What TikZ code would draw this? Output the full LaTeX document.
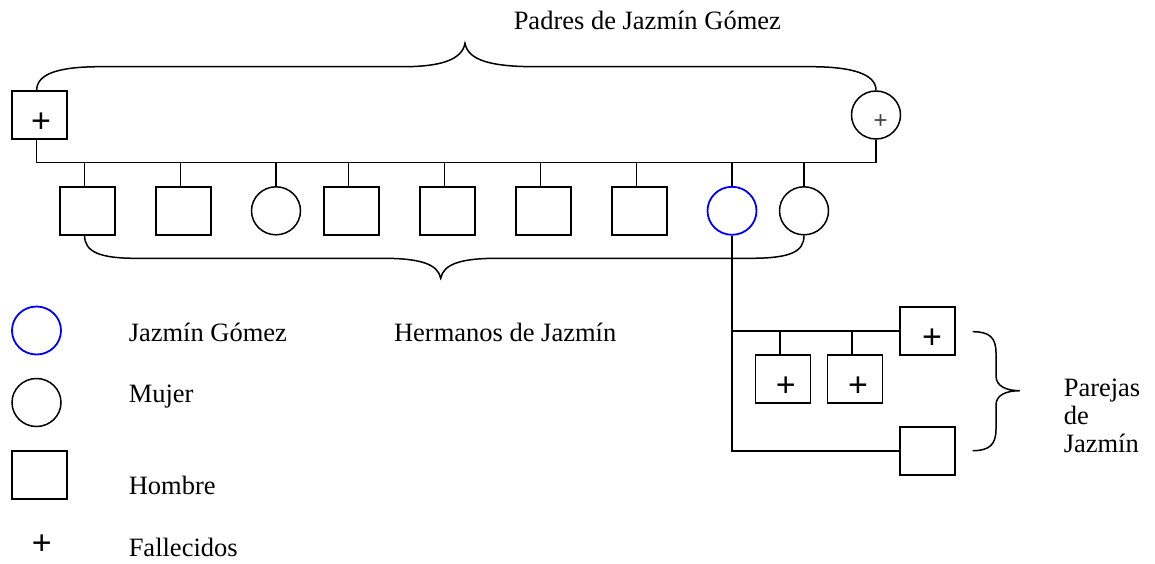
\documentclass[tikz,border=0pt]{standalone}
\usepackage{fontspec}
\setmainfont{Liberation Serif}
\newfontfamily\plusfont{Liberation Sans}
\usetikzlibrary{shapes.geometric}
\definecolor{jblue}{RGB}{0,0,255}
\begin{document}
\begin{tikzpicture}[x=1pt,y=-1pt,line width=1.5pt,
  man/.style={draw, rectangle, minimum width=55pt, minimum height=48pt, inner sep=0pt},
  woman/.style={draw, ellipse, minimum width=49pt, minimum height=48pt, inner sep=0pt},
  jaz/.style={woman, draw=jblue, line width=1.8pt},
  lbl/.style={font=\fontsize{26.5}{28}\selectfont, inner sep=0pt, anchor=base west},
  plusmark/.style={font=\plusfont\fontsize{34}{35}\selectfont, inner sep=0pt},
  smallplus/.style={font=\plusfont\fontsize{24}{25}\selectfont, inner sep=0pt, text=black!75}]
\useasboundingbox (0,0) rectangle (1155,563);

% title
\node[lbl] (title) at (513,29.3) {Padres de Jazmín Gómez};

% parents
\node[man] (f) at (39.4,115) {};
\node[plusmark] (fp) at (41,122.7) {+};
\node[woman] (m) at (876,115) {};
\node[smallplus] (mp) at (880.7,121.7) {+};

% top brace
\draw ([xshift=-2.7pt]f.north) .. controls (36.7,74) and (58,66.7) .. (100,66.7)
  -- (403,66.7) .. controls (440,66.7) and (462,60) .. (465,43.3)
  .. controls (468,60) and (490,66.7) .. (536,66.7)
  -- (811,66.7) .. controls (852,66.7) and (876,74) .. (m.north);

% siblings
\node[man]   (s1) at (87.3,210.8) {};
\node[man]   (s2) at (183.4,210.8) {};
\node[woman] (s3) at (276,210.8) {};
\node[man]   (s4) at (351.3,210.8) {};
\node[man]   (s5) at (447.3,210.8) {};
\node[man]   (s6) at (543.5,210.8) {};
\node[man]   (s7) at (639.5,210.8) {};
\node[jaz]   (s8) at (732,210.8) {};
\node[woman] (s9) at (804,210.8) {};

% sibship bus
\coordinate (busL) at (36.7,162.7);
\coordinate (busR) at (876,162.7);
\draw ([xshift=-2.7pt]f.south) -- (busL) -- (busR) -- (m.south);
\foreach \s in {s1,s2,s4,s5,s6,s7}
  \draw ([xshift=-2.9pt]\s.north) -- ([xshift=-2.9pt]\s.north |- busL);
\foreach \s in {s3,s8,s9}
  \draw (\s.north) -- (\s.north |- busL);

% bottom brace
\draw ([xshift=-2.7pt]s1.south) .. controls (84.6,252) and (100,258.3) .. (136,258.3)
  -- (383,258.3) .. controls (420,258.3) and (438,264) .. (440.7,278.3)
  .. controls (443.4,264) and (461,258.3) .. (497,258.3)
  -- (750,258.3) .. controls (790,258.3) and (804,252) .. (s9.south);

% partners
\node[man] (pA) at (927.5,331) {};
\node[plusmark] (pAp) at (932,339) {+};
\node[man] (pD) at (927.5,450.8) {};
\node[man] (cB) at (783.2,379) {};
\node[plusmark] (cBp) at (785.7,387) {+};
\node[man] (cC) at (855.2,379) {};
\node[plusmark] (cCp) at (858,387) {+};

\draw (s8.south) |- (pD.west);
\draw (s8.south |- pA.west) -- (pA.west);
\draw ([xshift=-3pt]cB.north) -- ([xshift=-3pt]cB.north |- pA.west);
\draw ([xshift=-3pt]cC.north) -- ([xshift=-3pt]cC.north |- pA.west);

% right brace
\coordinate (rbT) at (972.7,331.7);
\coordinate (rbC) at (1020,390.7);
\coordinate (rbB) at (972.7,450.7);
\draw (rbT) .. controls (990,331.7) and (996,338) .. (996,353)
  -- (996,376) .. controls (996,386) and (1006,390.7) .. (rbC)
  .. controls (1006,390.7) and (996,395) .. (996,405)
  -- (996,429) .. controls (996,444) and (990,450.7) .. (rbB);

\node[lbl] (par1) at (1063,396.7) {Parejas};
\node[lbl] (par2) at (1063,424.3) {de};
\node[lbl] (par3) at (1063,452.3) {Jazmín};

\node[lbl] (herm) at (393.3,341.7) {Hermanos de Jazmín};

% legend
\node[jaz] (lj) at (36.5,330.5) {};
\node[woman] (lw) at (36.5,402.5) {};
\node[man] (lm) at (39.3,475) {};
\node[plusmark] (lp) at (41.7,545) {+};
\node[lbl] (tj) at (128,341.7) {Jazmín Gómez};
\node[lbl] (tw) at (128,402.7) {Mujer};
\node[lbl] (tm) at (128,494) {Hombre};
\node[lbl] (tp) at (128,556.7) {Fallecidos};
\end{tikzpicture}
\end{document}
